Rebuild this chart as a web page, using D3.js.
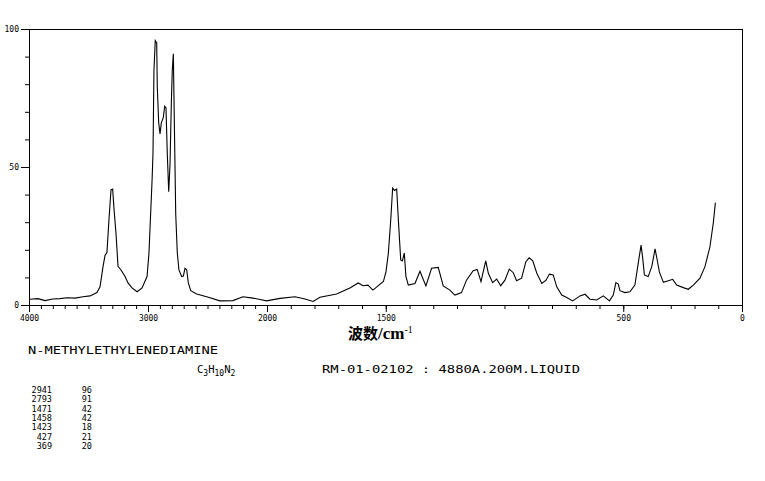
<!DOCTYPE html>
<html>
<head>
<meta charset="utf-8">
<script src="https://cdn.jsdelivr.net/npm/d3@7"></script>
<style>
  html, body { margin: 0; padding: 0; background: #fff; }
  svg { display: block; }
</style>
</head>
<body>
<svg id="chart" width="765" height="481"></svg>
<script>
// ---- data ----
const wavenumbers = [
  3992, 3925, 3866, 3800, 3740, 3680, 3613, 3546, 3487, 3429, 3403, 3378, 3361, 3345, 3328, 3311, 3297, 3286,
  3269, 3252, 3227, 3193, 3168, 3134, 3092, 3050, 3008, 2992, 2966, 2958, 2950, 2939, 2927,
  2922, 2910, 2899, 2888, 2871, 2860, 2849, 2838, 2826, 2815, 2804, 2796, 2787, 2779, 2767,
  2754, 2740, 2717, 2703, 2689, 2675, 2661, 2641, 2591, 2507, 2395, 2286, 2202, 2118, 2059,
  2003, 1945, 1882, 1840, 1806, 1777, 1707, 1651, 1616, 1596, 1575, 1554, 1510, 1499, 1489,
  1479, 1471, 1463, 1454, 1447, 1437, 1430, 1422, 1415, 1405, 1377, 1356, 1331, 1307, 1279,
  1258, 1230, 1209, 1181, 1160, 1132, 1115, 1099, 1079, 1068, 1050, 1033, 1016, 998, 980,
  963, 949, 928, 910, 896, 881, 864, 843, 825, 811, 795, 780, 759, 738, 713,
  682, 661, 640, 612, 584, 558, 542, 531, 521, 514, 493, 472, 451, 437, 425,
  418, 411, 395, 380, 366, 357, 348, 331, 310, 292, 275, 247, 226, 205, 177,
  156, 135, 121, 112
];
const intensities = [
  2.1, 2.3, 1.6, 2.2, 2.3, 2.6, 2.5, 3.0, 3.3, 4.5, 6.6, 13.9, 18, 19, 31, 41.7, 42, 35,
  26, 14, 12.7, 10.3, 8, 6.2, 4.8, 6.2, 10.3, 18.8, 45, 55, 85, 95.8, 95,
  79, 66, 62, 66, 68, 72, 71.5, 55, 41, 51, 73, 85, 91, 67, 33,
  19, 12.7, 10.3, 10.5, 13.3, 12.8, 8, 5.2, 4, 3, 1.5, 1.6, 3, 2.5, 2.0,
  1.5, 2.4, 3, 2.2, 1.3, 2.8, 4, 6.2, 8, 7, 7.2, 5.4, 8.5, 12, 18.8,
  30.8, 42.3, 41.5, 42, 31, 16.3, 16, 18.8, 10.3, 7.2, 7.8, 12.2, 6.9, 13.3, 13.6,
  6.9, 5.4, 3.6, 4.5, 9, 12.4, 12.9, 8.5, 16, 11.5, 8.1, 9.4, 7, 9, 13,
  11.7, 8.8, 9.7, 15.7, 17.1, 16, 11.5, 7.8, 9, 11.2, 10.9, 6.6, 3.6, 2.7, 1.5,
  3.3, 3.9, 2.1, 1.8, 3.3, 1.5, 3.6, 8.1, 7.6, 5.2, 4.5, 4.8, 7.2, 15.1, 21.7,
  16.9, 10.9, 10.3, 13.9, 20.3, 16.3, 12, 8.2, 8.8, 9.3, 7.2, 6.3, 5.7, 7.2, 9.7,
  13.9, 21.1, 29.6, 37.1
];

const xDomainBreaks = [4000, 2000, 0];
const xMajorTicks = [4000, 3000, 2000, 1500, 500, 0];
const xMinorTicks = d3.range(0, 4001, 100);
const yMajorTicks = [0, 50, 100];
const yMinorTicks = d3.range(0, 101, 10);

const peakWavenumbers = [2941, 2793, 1471, 1458, 1423, 427, 369];
const peakIntensities = [96, 91, 42, 42, 18, 21, 20];

const compoundName = "N-METHYLETHYLENEDIAMINE";
const sampleInfo = "RM-01-02102 : 4880A.200M.LIQUID";

// ---- drawing ----
const svg = d3.select("#chart");
const plotLeft = 29, plotRight = 742, plotTop = 29, plotBottom = 305;

const x = d3.scaleLinear().domain(xDomainBreaks).range([plotLeft, 267, plotRight]);
const y = d3.scaleLinear().domain([0, 100]).range([plotBottom, plotTop]);

const tickFont = "'DejaVu Sans Mono', monospace";

// frame
svg.append("line").attr("x1", plotLeft).attr("x2", plotRight).attr("y1", plotTop + 0.5).attr("y2", plotTop + 0.5)
  .attr("stroke", "#000");
svg.append("line").attr("x1", plotRight + 0.5).attr("x2", plotRight + 0.5).attr("y1", plotTop).attr("y2", plotBottom)
  .attr("stroke", "#000");

// x axis: minor ticks
const gxMinor = svg.append("g").attr("transform", `translate(0,${plotBottom})`)
  .call(d3.axisBottom(x).tickValues(xMinorTicks).tickSize(4).tickSizeOuter(0).tickFormat(() => ""));
// x axis: major ticks with labels
const gxMajor = svg.append("g").attr("transform", `translate(0,${plotBottom})`)
  .call(d3.axisBottom(x).tickValues(xMajorTicks).tickSize(7).tickSizeOuter(0).tickPadding(2).tickFormat(d3.format("d")));

// y axis
const gyMinor = svg.append("g").attr("transform", `translate(${plotLeft},0)`)
  .call(d3.axisLeft(y).tickValues(yMinorTicks).tickSize(4).tickSizeOuter(0).tickFormat(() => ""));
const gyMajor = svg.append("g").attr("transform", `translate(${plotLeft},0)`)
  .call(d3.axisLeft(y).tickValues(yMajorTicks).tickSize(8).tickSizeOuter(0).tickPadding(2).tickFormat(d3.format("d")));

[gxMinor, gxMajor, gyMinor, gyMajor].forEach(g => {
  g.selectAll(".domain").attr("stroke", "#000");
  g.selectAll(".tick line").attr("stroke", "#000").attr("stroke-width", 1);
  g.selectAll("text").attr("font-family", tickFont).attr("font-size", 8).attr("fill", "#000");
});
gxMajor.selectAll("text").attr("dy", "0.9em");

// spectrum line
const pts = wavenumbers.map((w, i) => [w, intensities[i]]);
const line = d3.line().x(d => x(d[0])).y(d => y(d[1])).curve(d3.curveLinear);
svg.append("path").datum(pts).attr("d", line)
  .attr("fill", "none").attr("stroke", "#000").attr("stroke-width", 1.1)
  .attr("stroke-linejoin", "miter");

// axis title
const title = svg.append("text").attr("x", 348).attr("y", 339).attr("fill", "#000");
title.append("tspan").attr("font-family", "'Noto Sans CJK SC', sans-serif").attr("font-size", 15).attr("font-weight", "bold").text("波数");
title.append("tspan").attr("font-family", "'Liberation Serif', serif").attr("font-size", 17).attr("font-weight", "bold").text("/cm");
title.append("tspan").attr("font-family", "'Liberation Serif', serif").attr("font-size", 10).attr("dy", -6).text("-1");

// compound info
const infoFont = "'DejaVu Sans Mono', monospace";
svg.append("text").attr("x", 28).attr("y", 354).attr("font-family", infoFont).attr("font-size", 10.5)
  .attr("textLength", 190).attr("lengthAdjust", "spacingAndGlyphs").text(compoundName);

const formula = svg.append("text").attr("x", 197).attr("y", 373).attr("font-family", infoFont).attr("font-size", 10.5);
[["C", 0, 10.5], ["3", 3, 8], ["H", -3, 10.5], ["10", 3, 8], ["N", -3, 10.5], ["2", 3, 8]].forEach(([t, dy, fs]) => {
  formula.append("tspan").attr("dy", dy).attr("font-size", fs).text(t);
});

svg.append("text").attr("x", 322).attr("y", 373).attr("font-family", infoFont).attr("font-size", 10.5)
  .attr("textLength", 258).attr("lengthAdjust", "spacingAndGlyphs").text(sampleInfo);

// peak table
const rowY = d3.scaleLinear().domain([0, 1]).range([393, 402.3]);
const table = svg.append("g").attr("font-family", infoFont).attr("font-size", 8.5).attr("fill", "#000");
peakWavenumbers.forEach((w, i) => {
  table.append("text").attr("x", 52).attr("y", rowY(i)).attr("text-anchor", "end").text(w);
  table.append("text").attr("x", 92).attr("y", rowY(i)).attr("text-anchor", "end").text(peakIntensities[i]);
});
</script>
</body>
</html>
